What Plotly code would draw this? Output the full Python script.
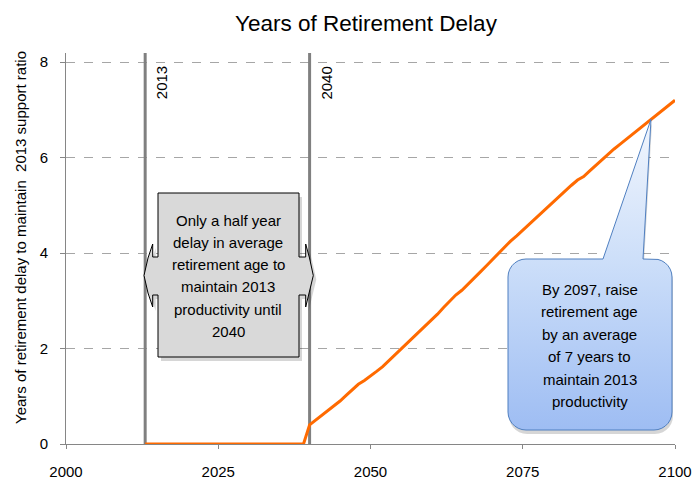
import numpy as np
import plotly.graph_objects as go

# years shown on the chart and the delay (years)
YEARS = list(range(2013, 2101))
DELAY = [
    0, 0, 0, 0, 0, 0, 0, 0, 0, 0, 0, 0, 0, 0, 0, 0, 0, 0, 0, 0, 0, 0, 0, 0, 0, 0, 0,
    0.40, 0.50, 0.60, 0.70, 0.80, 0.90, 1.02, 1.14, 1.25, 1.33,
    1.42, 1.52, 1.62, 1.74, 1.87, 1.98, 2.10, 2.23, 2.35, 2.47,
    2.58, 2.72, 2.86, 3.00, 3.12, 3.22, 3.34, 3.47, 3.60, 3.73,
    3.86, 4.00, 4.14, 4.25, 4.36, 4.48, 4.60, 4.72, 4.84, 4.96,
    5.08, 5.20, 5.30, 5.42, 5.53, 5.60, 5.72, 5.84, 5.96, 6.08,
    6.18, 6.28, 6.38, 6.48, 6.58, 6.68, 6.80, 6.90, 7.00, 7.10,
    7.20,
]
EVENT_YEARS = [2013, 2040]
X_TICKS = [2000, 2025, 2050, 2075, 2100]
Y_TICKS = [0, 2, 4, 6, 8]

LEFT_NOTE = ["Only a half year", "delay in average", "retirement age to",
             "maintain 2013", "productivity until", "2040"]
RIGHT_NOTE = ["By 2097, raise", "retirement age", "by an average",
              "of 7 years to", "maintain 2013", "productivity"]

FONT = "Liberation Sans, Arial, sans-serif"
X_RANGE = [2000, 2100]
Y_RANGE = [0, 8.19]
# plot area in pixels
PL, PR, PT, PB = 66, 675, 53, 444
W, H = 695, 481


def to_data(points):
    xs = [X_RANGE[0] + (px - PL) / (PR - PL) * (X_RANGE[1] - X_RANGE[0]) for px, _ in points]
    ys = [Y_RANGE[0] + (PB - py) / (PB - PT) * (Y_RANGE[1] - Y_RANGE[0]) for _, py in points]
    return xs, ys


def py_to_paper(py):
    return (PB - py) / (PB - PT)


def px_to_paper(px):
    return (px - PL) / (PR - PL)


def shift(points, dx, dy):
    return [(x + dx, y + dy) for x, y in points]


def arc(cx, cy, r, a0, a1, n=8):
    t = np.linspace(np.radians(a0), np.radians(a1), n)
    return [(cx + r * np.cos(a), cy + r * np.sin(a)) for a in t]


# left double-arrow callout outline
left_box = [
    (158, 193), (299, 193), (299, 257), (305.7, 257), (305.7, 244),
    (309.5, 258), (313.3, 275.5), (309.5, 293), (305.7, 307), (305.7, 295),
    (299, 295), (299, 357), (158, 357), (158, 295), (152.7, 295), (152.7, 307),
    (148, 293), (144, 275.5), (148, 258), (152.7, 244), (152.7, 257), (158, 257), (158, 193),
]

# right rounded callout with a tail pointing at the line
r = 18
bx0, bx1, by0, by1 = 508, 672, 259, 430
right_box = [(603, by0), (651, 119.3), (643, by0), (bx1 - r, by0)]
right_box += arc(bx1 - r, by0 + r, r, -90, 0)
right_box += arc(bx1 - r, by1 - r, r, 0, 90)
right_box += arc(bx0 + r, by1 - r, r, 90, 180)
right_box += arc(bx0 + r, by0 + r, r, 180, 270)
right_box += [(603, by0)]

fig = go.Figure()

for yr in EVENT_YEARS:
    fig.add_trace(go.Scatter(
        x=[yr, yr], y=Y_RANGE, mode="lines",
        line={"color": "#808080", "width": 3},
        showlegend=False, hoverinfo="skip",
    ))

fig.add_trace(go.Scatter(
    x=YEARS, y=DELAY, mode="lines",
    line={"color": "#ff6a00", "width": 3},
    showlegend=False,
))

# shadows
for pts, dx, dy in [(left_box, 3, 4), (right_box, 1, 4)]:
    sx, sy = to_data(shift(pts, dx, dy))
    fig.add_trace(go.Scatter(
        x=sx, y=sy, mode="lines", fill="toself",
        fillcolor="rgba(0,0,0,0.16)", line={"width": 0},
        showlegend=False, hoverinfo="skip",
    ))

lx, ly = to_data(left_box)
fig.add_trace(go.Scatter(
    x=lx, y=ly, mode="lines", fill="toself", fillcolor="#d9d9d9",
    line={"color": "#000000", "width": 1},
    showlegend=False, hoverinfo="skip",
))

rx, ry = to_data(right_box)
fig.add_trace(go.Scatter(
    x=rx, y=ry, mode="lines", fill="toself",
    fillgradient={"type": "vertical",
                  "colorscale": [[0, "#9ebdf3"], [0.55, "#cddff9"], [1, "#f2f6fd"]]},
    line={"color": "#4f7fc0", "width": 1},
    showlegend=False, hoverinfo="skip",
))

annotations = []
for i, line in enumerate(LEFT_NOTE):
    annotations.append(dict(
        x=px_to_paper(228), y=py_to_paper(220 + i * 22.3), xref="paper", yref="paper",
        text=line, showarrow=False, xanchor="center", yanchor="middle",
        font={"size": 15, "color": "#000000", "family": FONT},
    ))
for i, line in enumerate(RIGHT_NOTE):
    annotations.append(dict(
        x=px_to_paper(589.5), y=py_to_paper(289 + i * 22.5), xref="paper", yref="paper",
        text=line, showarrow=False, xanchor="center", yanchor="middle",
        font={"size": 15, "color": "#000000", "family": FONT},
    ))
for yr in EVENT_YEARS:
    annotations.append(dict(
        x=yr, y=py_to_paper(83), xref="x", yref="paper", xshift=16,
        text=str(yr), textangle=-90, showarrow=False,
        xanchor="center", yanchor="middle",
        font={"size": 15, "color": "#000000", "family": FONT},
    ))
annotations.append(dict(
    x=px_to_paper(20), y=py_to_paper(238), xref="paper", yref="paper",
    text="Years of retirement delay to maintain &nbsp;2013 support ratio",
    textangle=-90, showarrow=False, xanchor="center", yanchor="middle",
    font={"size": 15, "color": "#000000", "family": FONT},
))

fig.update_layout(
    width=W, height=H,
    margin={"l": PL, "r": W - PR, "t": PT, "b": H - PB},
    paper_bgcolor="#ffffff",
    plot_bgcolor="#ffffff",
    font={"family": FONT, "size": 15, "color": "#000000"},
    title={
        "text": "Years of Retirement Delay",
        "x": 366 / W, "xanchor": "center",
        "y": 1 - 23 / H, "yanchor": "middle",
        "font": {"size": 22.5, "color": "#000000", "family": FONT},
    },
    annotations=annotations,
    showlegend=False,
)
fig.update_xaxes(
    range=X_RANGE, tickvals=X_TICKS, showgrid=False, zeroline=False,
    showline=True, linecolor="#868686", linewidth=1,
    ticks="outside", ticklen=4, tickcolor="#868686",
    tickfont={"size": 15, "color": "#000000", "family": FONT},
    ticklabelstandoff=10, automargin=False,
)
fig.update_yaxes(
    range=Y_RANGE, tickvals=Y_TICKS, zeroline=False,
    showgrid=True, gridcolor="#a6a6a6", griddash="dash", gridwidth=1,
    showline=True, linecolor="#868686", linewidth=1,
    ticks="outside", ticklen=5, tickcolor="#868686",
    tickfont={"size": 15, "color": "#000000", "family": FONT},
    ticklabelstandoff=9, automargin=False,
)

fig.write_html(
    "out.html",
    config={"displayModeBar": False},
    post_script="document.body.style.margin = '0';",
)
